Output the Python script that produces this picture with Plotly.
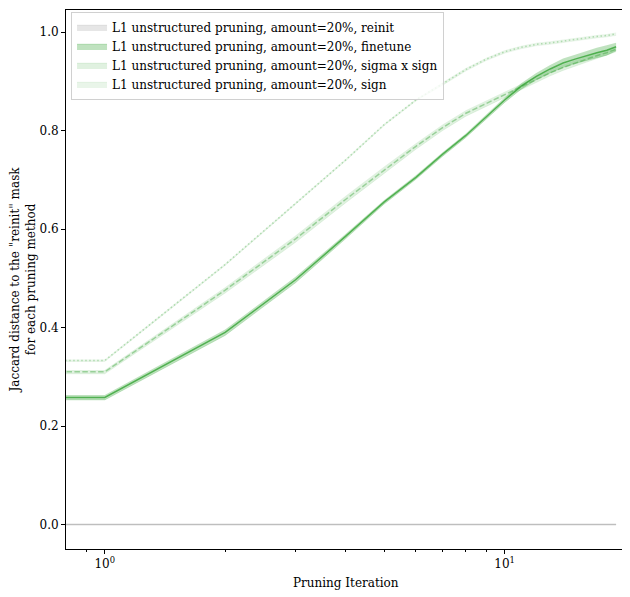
import plotly.graph_objects as go

# pruning iterations; 0 sits left of the log axis like matplotlib's clip
iterations = list(range(20))

reinit_mean = [0.0] * 20
reinit_std = [0.0] * 20

finetune_mean = [0.258, 0.258, 0.390, 0.497, 0.585, 0.655, 0.705, 0.752, 0.790, 0.828,
                 0.862, 0.890, 0.910, 0.925, 0.937, 0.945, 0.952, 0.958, 0.963, 0.970]
finetune_std = [0.005, 0.005, 0.006, 0.006, 0.005, 0.004, 0.004, 0.004, 0.004, 0.005,
                0.005, 0.006, 0.007, 0.008, 0.009, 0.009, 0.010, 0.010, 0.010, 0.008]

sigma_mean = [0.310, 0.310, 0.476, 0.580, 0.660, 0.720, 0.768, 0.806, 0.835, 0.855,
              0.873, 0.888, 0.903, 0.917, 0.928, 0.937, 0.945, 0.952, 0.958, 0.965]
sigma_std = [0.004, 0.004, 0.006, 0.007, 0.007, 0.007, 0.006, 0.006, 0.006, 0.006,
             0.006, 0.006, 0.006, 0.006, 0.006, 0.006, 0.006, 0.006, 0.005, 0.005]

sign_mean = [0.333, 0.333, 0.528, 0.652, 0.740, 0.812, 0.862, 0.895, 0.924, 0.945,
             0.960, 0.969, 0.975, 0.978, 0.982, 0.985, 0.988, 0.991, 0.993, 0.996]
sign_std = [0.002, 0.002, 0.002, 0.002, 0.002, 0.002, 0.002, 0.003, 0.003, 0.003,
            0.003, 0.003, 0.003, 0.003, 0.003, 0.003, 0.003, 0.003, 0.003, 0.003]

labels = ["L1 unstructured pruning, amount=20%, reinit",
          "L1 unstructured pruning, amount=20%, finetune",
          "L1 unstructured pruning, amount=20%, sigma x sign",
          "L1 unstructured pruning, amount=20%, sign"]

x_plot = [max(i, 1e-3) for i in iterations]

styles = [
    # (mean, std, line colour, band colour, dash)
    (reinit_mean, reinit_std, "rgba(128,128,128,0.45)", "rgba(128,128,128,0.2)", "solid"),
    (finetune_mean, finetune_std, "rgba(44,160,44,0.75)", "rgba(44,160,44,0.3)", "solid"),
    (sigma_mean, sigma_std, "rgba(44,160,44,0.4)", "rgba(44,160,44,0.15)", "5.5px,2.4px"),
    (sign_mean, sign_std, "rgba(44,160,44,0.3)", "rgba(44,160,44,0.1)", "1.5px,2.5px"),
]

fig = go.Figure()
for name, (mean, std, lc, bc, dash) in zip(labels, styles):
    upper = [m + s for m, s in zip(mean, std)]
    lower = [m - s for m, s in zip(mean, std)]
    fig.add_trace(go.Scatter(x=x_plot, y=upper, mode="lines", line=dict(width=0, color=bc),
                             showlegend=False, hoverinfo="skip"))
    fig.add_trace(go.Scatter(x=x_plot, y=lower, mode="lines", fill="tonexty", fillcolor=bc,
                             line=dict(width=0.6, color=bc), name=name))
    fig.add_trace(go.Scatter(x=x_plot, y=mean, mode="lines", showlegend=False,
                             line=dict(color=lc, width=1.5, dash=dash)))

font = dict(family="DejaVu Serif", size=12, color="black")
# the page body adds an 8px offset, margins are compensated for it
fig.update_layout(
    width=630, height=597,
    margin=dict(l=58, r=13, t=2, b=56),
    plot_bgcolor="white", paper_bgcolor="white",
    font=font,
    legend=dict(x=0.009, y=0.997, xanchor="left", yanchor="top", traceorder="normal",
                bgcolor="rgba(255,255,255,0.8)", bordercolor="#d0d0d0", borderwidth=1,
                font=font, tracegroupgap=0, itemwidth=30),
)
fig.update_xaxes(
    type="log", range=[-0.097, 1.301], automargin=False,
    tickvals=[1, 10], ticktext=["10<sup>0</sup>", "10<sup>1</sup>"],
    ticks="outside", ticklen=4, tickcolor="black",
    minor=dict(tickvals=[0.9, 2, 3, 4, 5, 6, 7, 8, 9], ticks="outside", ticklen=2, tickcolor="black"),
    showline=True, mirror=True, linecolor="black", linewidth=1,
    showgrid=False, zeroline=False,
)
fig.update_yaxes(
    range=[-0.0497, 1.0447], automargin=False,
    tickvals=[0, 0.2, 0.4, 0.6, 0.8, 1.0], ticktext=["0.0", "0.2", "0.4", "0.6", "0.8", "1.0"],
    ticks="outside", ticklen=4, tickcolor="black",
    showline=True, mirror=True, linecolor="black", linewidth=1,
    showgrid=False, zeroline=False,
)

# axis titles placed like matplotlib's
fig.add_annotation(text="Pruning Iteration", xref="paper", yref="paper",
                   x=0.5, y=-0.063, xanchor="center", yanchor="middle",
                   showarrow=False, font=font)
fig.add_annotation(text='Jaccard distance to the "reinit" mask<br>for each pruning method',
                   xref="paper", yref="paper", x=-0.077, y=0.5,
                   xanchor="center", yanchor="middle", textangle=-90,
                   showarrow=False, font=font)

fig.write_html("out.html")
